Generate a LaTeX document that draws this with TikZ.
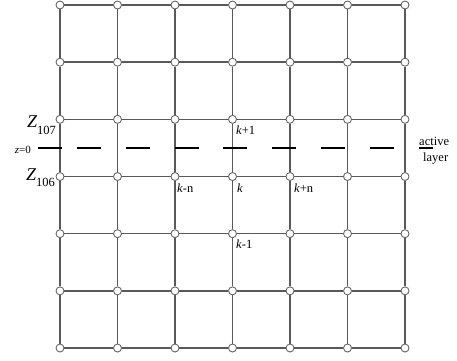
\documentclass[tikz,border=0pt]{standalone}
\usepackage{fontspec}
\setmainfont{Liberation Serif}
\usetikzlibrary{calc}
\tikzset{site/.style={circle, draw=gray!80!black, fill=white, line width=0.9pt, minimum size=8pt, inner sep=0pt},
  bond/.style={draw=gray!70!black, line width=1.5pt},
  cut/.style={line width=1.7pt},
  lbl/.style={anchor=base west, inner sep=0pt, font=\fontsize{12.5}{13}\selectfont}}

\begin{document}
\begin{tikzpicture}[x=1pt,y=-1pt]
  \useasboundingbox (0,0) rectangle (457,360);
  \foreach \i in {0,...,6}{
    \foreach \j in {0,...,6}{
      \node[site] (v-\i-\j) at ({60+57.5*\i},{5+57.17*\j}) {};}}
  \foreach \i in {0,...,6}{
    \foreach \j [count=\k] in {0,...,5}{
      \draw[bond] (v-\i-\j) -- (v-\i-\k);
      \draw[bond] (v-\j-\i) -- (v-\k-\i);}}
  % active layer
  \draw[cut] (38,148) -- (62,148);
  \foreach \x in {77,125.8,...,370}
    \draw[cut] (\x,148) -- ++(24,0);
  \draw[cut] (419,148) -- (433,148);
  \node[lbl] (act) at (419,145) {active};
  \node[lbl] (lay) at (423,161) {layer};
  \node[lbl, anchor=base east, font=\fontsize{11}{12}\selectfont] (z0) at (31,153) {\textit{z}=0};
  \node[lbl, anchor=base east] (z107) at (56,127) {{\fontsize{18}{18}\selectfont\itshape Z}\raisebox{-7pt}{107}};
  \node[lbl, anchor=base east] (z106) at (55,180) {{\fontsize{18}{18}\selectfont\itshape Z}\raisebox{-6pt}{106}};
  % neighbours of k
  \node[lbl] (kup) at ($(v-3-2)+(3.5,15)$) {\textit{k}+1};
  \node[lbl] (kle) at ($(v-2-3)+(2,15.5)$) {\textit{k}-n};
  \node[lbl] (kc) at ($(v-3-3)+(4.5,15.5)$) {\textit{k}};
  \node[lbl] (kri) at ($(v-4-3)+(4,15.5)$) {\textit{k}+n};
  \node[lbl] (kdn) at ($(v-3-4)+(3.5,14.5)$) {\textit{k}-1};
\end{tikzpicture}
\end{document}
